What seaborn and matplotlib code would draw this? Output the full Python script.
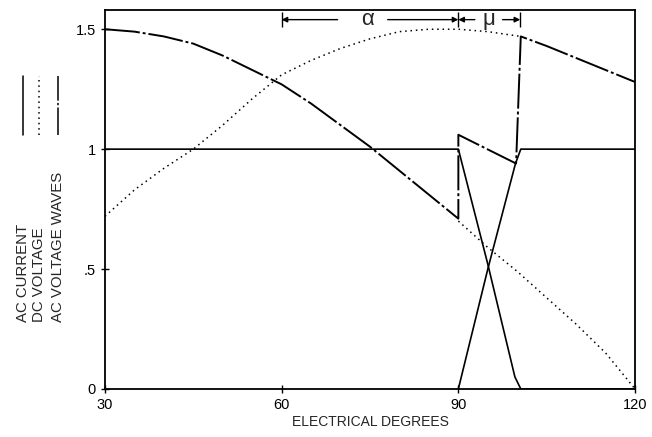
import matplotlib
matplotlib.use("Agg")
import matplotlib.pyplot as plt
from matplotlib.lines import Line2D
import pandas as pd
import seaborn as sns

# values (y in units of the printed ticks)
volt_wave_x = [30, 35, 40, 45, 50, 55, 60, 65, 70, 75, 80, 85, 90,
               90, 99.8, 100.6, 105, 110, 115, 120]
volt_wave_y = [1.50, 1.49, 1.47, 1.44, 1.39, 1.33, 1.27, 1.19, 1.10, 1.01, 0.91, 0.81, 0.71,
               1.06, 0.94, 1.47, 1.43, 1.38, 1.33, 1.28]

dc_rise_x = [30, 35, 40, 45, 50, 55, 60, 65, 70, 75, 80, 85, 90, 95, 100.6]
dc_rise_y = [0.72, 0.83, 0.92, 1.00, 1.10, 1.21, 1.31, 1.37, 1.42, 1.46, 1.49, 1.50, 1.50, 1.49, 1.47]
dc_fall_x = [90, 95, 100, 105, 110, 115, 120]
dc_fall_y = [0.70, 0.59, 0.49, 0.38, 0.27, 0.15, 0.0]

cur_out_x = [30, 90, 95, 99.6, 100.6, 120]
cur_out_y = [1.0, 1.0, 0.52, 0.05, 0.0, 0.0]
cur_in_x = [90, 95, 99.7, 100.6, 120]
cur_in_y = [0.0, 0.5, 0.94, 1.0, 1.0]

x_ticks = [30, 60, 90, 120]
y_ticks = [0, 0.5, 1, 1.5]
y_tick_labels = ["0", ".5", "1", "1.5"]
legend_labels = ["AC CURRENT", "DC VOLTAGE", "AC VOLTAGE WAVES"]

alpha_start, alpha_end, mu_end = 60, 90, 100.5

sns.set_style("ticks")
plt.rcParams["font.family"] = ["Liberation Sans", "DejaVu Sans"]

fig = plt.figure(figsize=(6.52, 4.37), dpi=100)
ax = fig.add_axes([0.161, 0.110, 0.813, 0.867])

dash_dot = (0, (18, 1.5, 1.5, 1.5))
dotted = (0, (1, 2.5))

def draw(xs, ys, style, lw):
    df = pd.DataFrame({"x": xs, "y": ys})
    sns.lineplot(data=df, x="x", y="y", sort=False, estimator=None, ax=ax,
                 color="black", linewidth=lw, linestyle=style)

draw(dc_rise_x, dc_rise_y, dotted, 1.1)
draw(dc_fall_x, dc_fall_y, dotted, 1.1)
draw(cur_out_x, cur_out_y, "-", 1.2)
draw(cur_in_x, cur_in_y, "-", 1.2)
draw(volt_wave_x, volt_wave_y, dash_dot, 1.4)

ax.set_xlim(30, 120)
ax.set_ylim(0, 1.58)
ax.set_xticks(x_ticks)
ax.set_yticks(y_ticks)
ax.set_yticklabels(y_tick_labels)
ax.tick_params(direction="inout", length=6, width=1, labelsize=10.5, colors="black")
ax.set_xlabel("ELECTRICAL DEGREES", fontsize=10, labelpad=2)
ax.set_ylabel("")
for sp in ax.spines.values():
    sp.set_visible(True)
    sp.set_linewidth(1.3)
    sp.set_color("black")

# alpha / mu dimension marks
ya = 1.54
ax.vlines([alpha_start, alpha_end, mu_end], ya - 0.03, ya + 0.03, color="black", lw=1)
arr = dict(arrowstyle="-|>", color="black", lw=1, mutation_scale=8, shrinkA=0, shrinkB=0)
ax.annotate("", xy=(alpha_start, ya), xytext=(alpha_start + 9.5, ya), arrowprops=arr)
ax.annotate("", xy=(alpha_end, ya), xytext=(alpha_end - 12, ya), arrowprops=arr)
ax.annotate("", xy=(alpha_end, ya), xytext=(alpha_end + 2.8, ya), arrowprops=arr)
ax.annotate("", xy=(mu_end, ya), xytext=(mu_end - 3, ya), arrowprops=arr)
ax.text((alpha_start + alpha_end) / 2 - 0.5, ya, "α", ha="center", va="center", fontsize=16)
ax.text(alpha_end + 5.2, ya, "μ", ha="center", va="center", fontsize=16)

# rotated legend on the left
styles = ["-", dotted, dash_dot]
xs_fig = [23 / 652, 39 / 652, 58 / 652]
for lab, st, xf in zip(legend_labels, styles, xs_fig):
    fig.add_artist(Line2D([xf, xf], [1 - 135 / 437, 1 - 76 / 437], color="black",
                          lw=1.1, linestyle=st, transform=fig.transFigure))
    fig.text(xf, 1 - 322 / 437, lab, rotation=90, ha="center", va="bottom", fontsize=10.8)

fig.savefig("out.png", dpi=100)
